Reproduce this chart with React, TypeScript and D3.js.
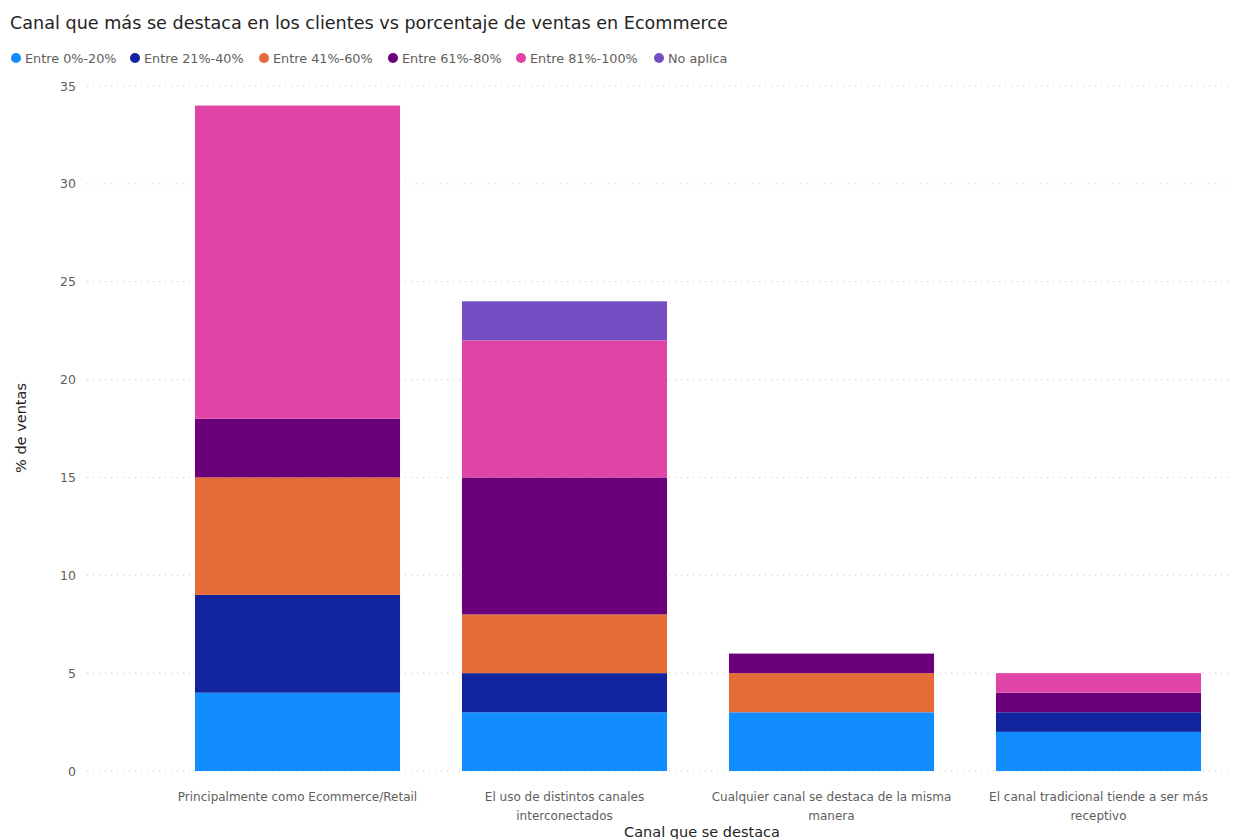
import React from "react";
import * as d3 from "d3";

const title = "Canal que más se destaca en los clientes vs porcentaje de ventas en Ecommerce";
const categories = [
  "Principalmente como Ecommerce/Retail",
  "El uso de distintos canales interconectados",
  "Cualquier canal se destaca de la misma manera",
  "El canal tradicional tiende a ser más receptivo",
];
const categoryLines = [
  ["Principalmente como Ecommerce/Retail"],
  ["El uso de distintos canales", "interconectados"],
  ["Cualquier canal se destaca de la misma", "manera"],
  ["El canal tradicional tiende a ser más", "receptivo"],
];
const seriesNames = ["Entre 0%-20%", "Entre 21%-40%", "Entre 41%-60%", "Entre 61%-80%", "Entre 81%-100%", "No aplica"];
const seriesColors = ["#118DFF", "#12239E", "#E66C37", "#6B007B", "#E044A7", "#744EC2"];
const v0_20 = [4, 3, 3, 2];
const v21_40 = [5, 2, 0, 1];
const v41_60 = [6, 3, 2, 0];
const v61_80 = [3, 7, 1, 1];
const v81_100 = [16, 7, 0, 1];
const vNoAplica = [0, 2, 0, 0];
const yTicks = [0, 5, 10, 15, 20, 25, 30, 35];
const yTitle = "% de ventas";
const xTitle = "Canal que se destaca";

const FONT = "'DejaVu Sans', sans-serif";

export default function App() {
  const W = 1244, H = 839;
  const seriesValues = [v0_20, v21_40, v41_60, v61_80, v81_100, vNoAplica];
  const rows = categories.map((c, i) => {
    const r: any = { cat: c };
    seriesNames.forEach((s, j) => (r[s] = seriesValues[j][i]));
    return r;
  });
  const stack = d3.stack<any>().keys(seriesNames)(rows);
  const x = d3.scaleBand<string>().domain(categories).range([164, 1232]).paddingInner(0.232).paddingOuter(0.116);
  const y = d3.scaleLinear().domain([0, 35]).range([771, 86]);
  const legendX = [16, 135, 264, 393, 521, 659];

  return (
    <svg width={W} height={H} style={{ position: "absolute", left: 0, top: 0, background: "#fff" }} fontFamily={FONT}>
      <text x={10} y={29} fontSize={17.6} fill="#252423">{title}</text>
      {seriesNames.map((s, i) => (
        <g key={s}>
          <circle cx={legendX[i]} cy={58} r={5} fill={seriesColors[i]} />
          <text x={legendX[i] + 9} y={62.5} fontSize={12.8} fill="#605E5C">{s}</text>
        </g>
      ))}
      {yTicks.map((t) => (
        <g key={t}>
          <line x1={87} x2={1232} y1={y(t)} y2={y(t)} stroke="#C8C8C8" strokeWidth={1} strokeDasharray="1,5" />
          <text x={76} y={y(t) + 4.5} fontSize={12.5} fill="#605E5C" textAnchor="end">{t}</text>
        </g>
      ))}
      <text transform={`translate(26,428) rotate(-90)`} fontSize={14.5} fill="#252423" textAnchor="middle">{yTitle}</text>
      {stack.map((layer, j) => (
        <g key={layer.key} fill={seriesColors[j]}>
          {layer.map((d, i) =>
            d[1] - d[0] > 0 ? (
              <rect key={i} x={x(categories[i])!} width={x.bandwidth()} y={y(d[1])} height={y(d[0]) - y(d[1])} />
            ) : null
          )}
        </g>
      ))}
      {categoryLines.map((lines, i) => (
        <text key={i} x={x(categories[i])! + x.bandwidth() / 2} fontSize={12} fill="#605E5C" textAnchor="middle">
          {lines.map((l, k) => (
            <tspan key={k} x={x(categories[i])! + x.bandwidth() / 2} y={801 + k * 19}>{l}</tspan>
          ))}
        </text>
      ))}
      <text x={702} y={837} fontSize={14.5} fill="#252423" textAnchor="middle">{xTitle}</text>
    </svg>
  );
}
